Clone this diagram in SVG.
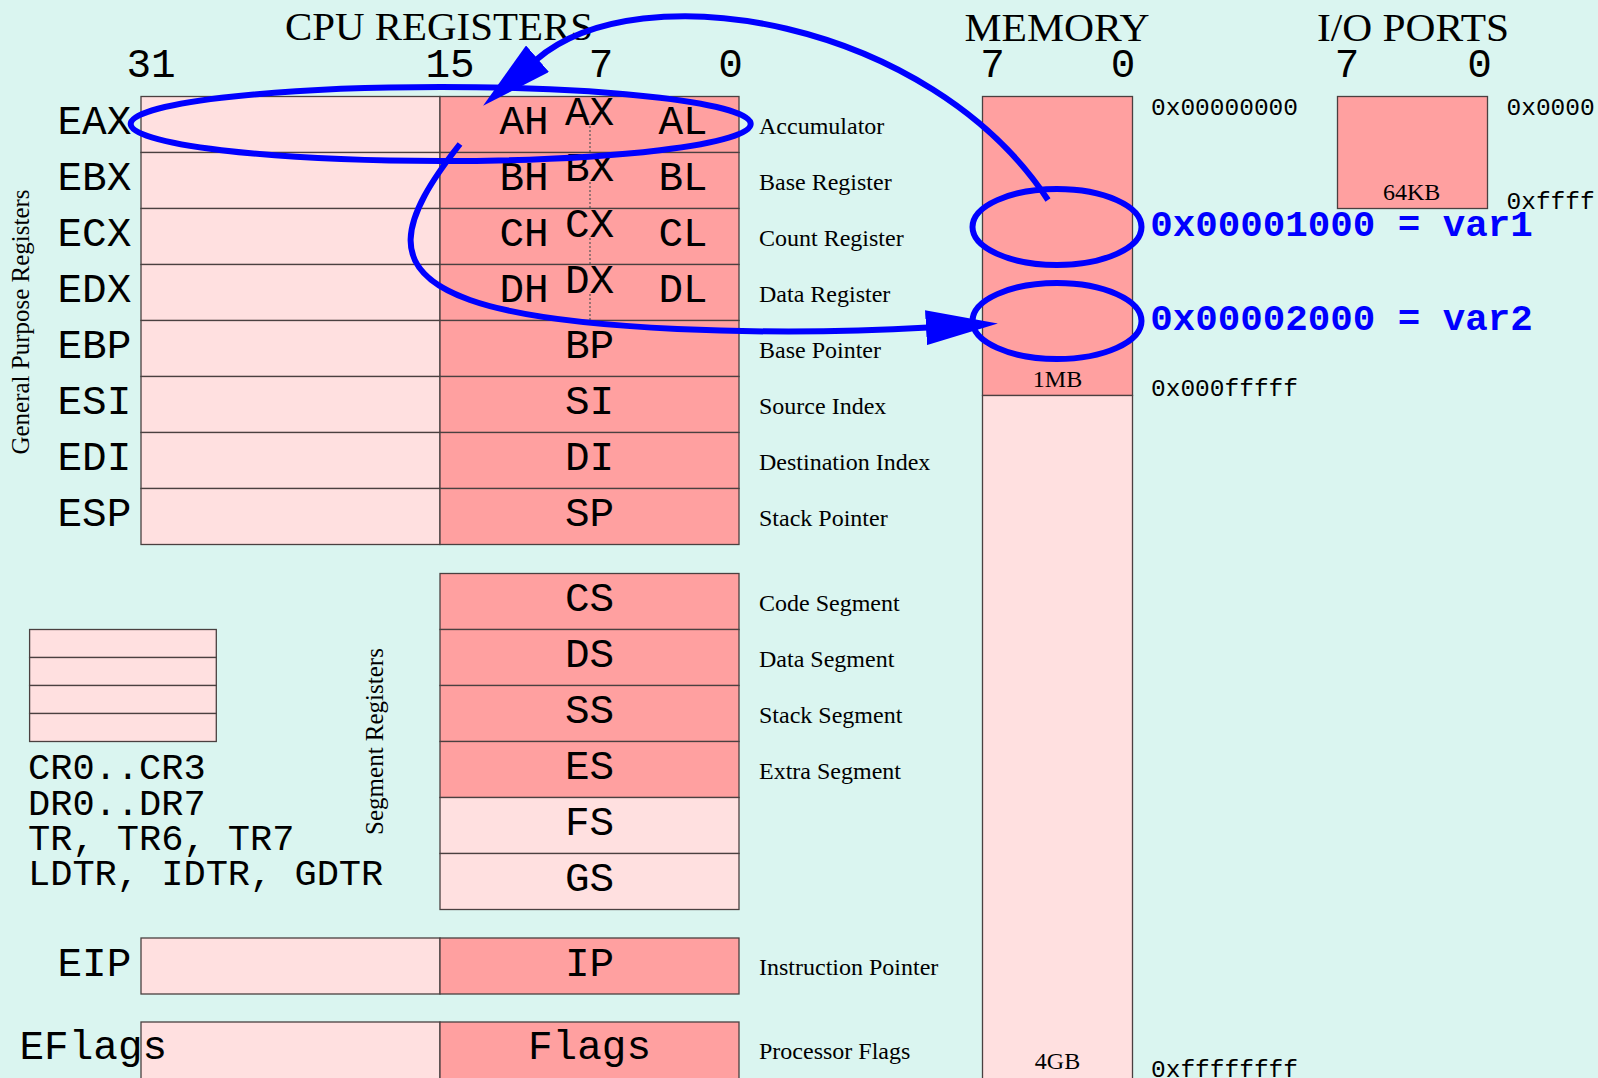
<svg xmlns="http://www.w3.org/2000/svg" width="1598" height="1078" viewBox="0 0 1598 1078">
<defs>
<style>
.bg{fill:#daf5f0}
.lt{fill:#ffe0e0;stroke:#4a4040;stroke-width:1.3}
.dk{fill:#ffa0a0;stroke:#4a4040;stroke-width:1.3}
.mono{font-family:"Liberation Mono","DejaVu Sans Mono",monospace;font-size:41px;fill:#000}
.mono37{font-family:"Liberation Mono","DejaVu Sans Mono",monospace;font-size:37px;fill:#000}
.addr{font-family:"Liberation Mono","DejaVu Sans Mono",monospace;font-size:24.5px;fill:#000}
.var{font-family:"Liberation Mono","DejaVu Sans Mono",monospace;font-size:37.5px;font-weight:bold;fill:#0000ff}
.serif{font-family:"Liberation Serif","Times New Roman",serif;font-size:24px;fill:#000}
.title{font-family:"Liberation Serif","Times New Roman",serif;font-size:39px;fill:#000}
.vt{font-family:"Liberation Serif","Times New Roman",serif;font-size:25px;fill:#000}
.c{text-anchor:middle}
.dot{stroke:#555;stroke-width:1.2;stroke-dasharray:2,2;fill:none}
.blue{fill:none;stroke:#0000ff;stroke-width:6}
</style>
<marker id="ah" markerUnits="userSpaceOnUse" viewBox="0 0 72 35" markerWidth="72" markerHeight="35" refX="2" refY="17.5" orient="auto">
<path d="M0,0 L72,17.5 L0,35 z" fill="#0000ff"/>
</marker>
</defs>
<rect class="bg" x="0" y="0" width="1598" height="1078"/>

<g id="titles">
<text class="title c" x="439" y="39.5" textLength="308" lengthAdjust="spacingAndGlyphs">CPU REGISTERS</text>
<text class="title c" x="1057" y="40.5" textLength="185" lengthAdjust="spacingAndGlyphs">MEMORY</text>
<text class="title c" x="1413" y="40.5" textLength="192" lengthAdjust="spacingAndGlyphs">I/O PORTS</text>
<text class="mono c" x="151" y="77">31</text>
<text class="mono c" x="450" y="77">15</text>
<text class="mono c" x="601" y="77">7</text>
<text class="mono c" x="730.5" y="77">0</text>
<text class="mono c" x="992.6" y="77">7</text>
<text class="mono c" x="1123" y="77">0</text>
<text class="mono c" x="1347" y="77">7</text>
<text class="mono c" x="1479.5" y="77">0</text>
<text class="vt c" transform="translate(29,322) rotate(-90)">General Purpose Registers</text>
<text class="vt c" transform="translate(383,741.5) rotate(-90)">Segment Registers</text>
</g>

<g id="EAX">
<rect class="lt" x="141" y="96.5" width="299" height="56"/><rect class="dk" x="440" y="96.5" width="299" height="56"/>
<text class="mono" x="57.5" y="134">EAX</text>
<text class="mono c" x="524" y="134">AH</text><text class="mono c" x="589.5" y="125">AX</text><text class="mono c" x="683" y="134">AL</text>
<line class="dot" x1="590" y1="126" x2="590" y2="152.5"/>
<text class="serif" x="759" y="133.5">Accumulator</text>
</g>
<g id="EBX">
<rect class="lt" x="141" y="152.5" width="299" height="56"/><rect class="dk" x="440" y="152.5" width="299" height="56"/>
<text class="mono" x="57.5" y="190">EBX</text>
<text class="mono c" x="524" y="190">BH</text><text class="mono c" x="589.5" y="181">BX</text><text class="mono c" x="683" y="190">BL</text>
<line class="dot" x1="590" y1="182" x2="590" y2="208.5"/>
<text class="serif" x="759" y="189.5">Base Register</text>
</g>
<g id="ECX">
<rect class="lt" x="141" y="208.5" width="299" height="56"/><rect class="dk" x="440" y="208.5" width="299" height="56"/>
<text class="mono" x="57.5" y="246">ECX</text>
<text class="mono c" x="524" y="246">CH</text><text class="mono c" x="589.5" y="237">CX</text><text class="mono c" x="683" y="246">CL</text>
<line class="dot" x1="590" y1="238" x2="590" y2="264.5"/>
<text class="serif" x="759" y="245.5">Count Register</text>
</g>
<g id="EDX">
<rect class="lt" x="141" y="264.5" width="299" height="56"/><rect class="dk" x="440" y="264.5" width="299" height="56"/>
<text class="mono" x="57.5" y="302">EDX</text>
<text class="mono c" x="524" y="302">DH</text><text class="mono c" x="589.5" y="293">DX</text><text class="mono c" x="683" y="302">DL</text>
<line class="dot" x1="590" y1="294" x2="590" y2="320.5"/>
<text class="serif" x="759" y="301.5">Data Register</text>
</g>
<g id="EBP">
<rect class="lt" x="141" y="320.5" width="299" height="56"/><rect class="dk" x="440" y="320.5" width="299" height="56"/>
<text class="mono" x="57.5" y="358">EBP</text><text class="mono c" x="589.5" y="358">BP</text>
<text class="serif" x="759" y="357.5">Base Pointer</text>
</g>
<g id="ESI">
<rect class="lt" x="141" y="376.5" width="299" height="56"/><rect class="dk" x="440" y="376.5" width="299" height="56"/>
<text class="mono" x="57.5" y="414">ESI</text><text class="mono c" x="589.5" y="414">SI</text>
<text class="serif" x="759" y="413.5">Source Index</text>
</g>
<g id="EDI">
<rect class="lt" x="141" y="432.5" width="299" height="56"/><rect class="dk" x="440" y="432.5" width="299" height="56"/>
<text class="mono" x="57.5" y="470">EDI</text><text class="mono c" x="589.5" y="470">DI</text>
<text class="serif" x="759" y="469.5">Destination Index</text>
</g>
<g id="ESP">
<rect class="lt" x="141" y="488.5" width="299" height="56"/><rect class="dk" x="440" y="488.5" width="299" height="56"/>
<text class="mono" x="57.5" y="526">ESP</text><text class="mono c" x="589.5" y="526">SP</text>
<text class="serif" x="759" y="525.5">Stack Pointer</text>
</g>

<g id="CS"><rect class="dk" x="440" y="573.5" width="299" height="56"/><text class="mono c" x="589.5" y="611">CS</text><text class="serif" x="759" y="610.5">Code Segment</text></g>
<g id="DS"><rect class="dk" x="440" y="629.5" width="299" height="56"/><text class="mono c" x="589.5" y="667">DS</text><text class="serif" x="759" y="666.5">Data Segment</text></g>
<g id="SS"><rect class="dk" x="440" y="685.5" width="299" height="56"/><text class="mono c" x="589.5" y="723">SS</text><text class="serif" x="759" y="722.5">Stack Segment</text></g>
<g id="ES"><rect class="dk" x="440" y="741.5" width="299" height="56"/><text class="mono c" x="589.5" y="779">ES</text><text class="serif" x="759" y="778.5">Extra Segment</text></g>
<g id="FS"><rect class="lt" x="440" y="797.5" width="299" height="56"/><text class="mono c" x="589.5" y="835">FS</text></g>
<g id="GS"><rect class="lt" x="440" y="853.5" width="299" height="56"/><text class="mono c" x="589.5" y="891">GS</text></g>

<g id="CR">
<rect class="lt" x="29.6" y="629.5" width="186.7" height="28"/>
<rect class="lt" x="29.6" y="657.5" width="186.7" height="28"/>
<rect class="lt" x="29.6" y="685.5" width="186.7" height="28"/>
<rect class="lt" x="29.6" y="713.5" width="186.7" height="28"/>
<text class="mono37" x="28" y="778.5">CR0..CR3</text>
<text class="mono37" x="28" y="814.5">DR0..DR7</text>
<text class="mono37" x="28" y="849.5">TR, TR6, TR7</text>
<text class="mono37" x="28" y="885">LDTR, IDTR, GDTR</text>
</g>

<g id="EIP">
<rect class="lt" x="141" y="938" width="299" height="56"/><rect class="dk" x="440" y="938" width="299" height="56"/>
<text class="mono" x="57.5" y="975.5">EIP</text><text class="mono c" x="589.5" y="975.5">IP</text>
<text class="serif" x="759" y="974.5">Instruction Pointer</text>
</g>
<g id="EFlags">
<rect class="lt" x="141" y="1022" width="299" height="60"/><rect class="dk" x="440" y="1022" width="299" height="60"/>
<text class="mono" x="19.5" y="1058.5">EFlags</text><text class="mono c" x="589.5" y="1059">Flags</text>
<text class="serif" x="759" y="1058.5">Processor Flags</text>
</g>

<g id="memory">
<rect class="dk" x="982.5" y="96.5" width="150" height="299"/>
<rect class="lt" x="982.5" y="395.5" width="150" height="686"/>
<text class="serif c" x="1057.5" y="387">1MB</text>
<text class="serif c" x="1057.5" y="1068.5">4GB</text>
<text class="addr" x="1151" y="115">0x00000000</text>
<text class="addr" x="1151" y="395.5">0x000fffff</text>
<text class="addr" x="1151" y="1076.5">0xffffffff</text>
</g>
<g id="var1"><ellipse class="blue" cx="1057" cy="227" rx="84.5" ry="38"/><text class="var" x="1150.3" y="236">0x00001000 = var1</text></g>
<g id="var2"><ellipse class="blue" cx="1057" cy="321" rx="84.5" ry="38"/><text class="var" x="1150.3" y="329.5">0x00002000 = var2</text></g>

<g id="io">
<rect class="dk" x="1337.5" y="96.5" width="150" height="112"/>
<text class="serif c" x="1411.7" y="200">64KB</text>
<text class="addr" x="1506.5" y="115">0x0000</text>
<text class="addr" x="1506.5" y="208.5">0xffff</text>
</g>

<g id="connectors">
<ellipse class="blue" cx="440.7" cy="124" rx="310" ry="37"/>
<path class="blue" marker-end="url(#ah)" d="M1048,200 C930,20 640,-30 536,60"/>
<path class="blue" marker-end="url(#ah)" d="M460,144 C400,220 385,270 470,300 C560,332 780,336 928,327.5"/>
</g>
</svg>
